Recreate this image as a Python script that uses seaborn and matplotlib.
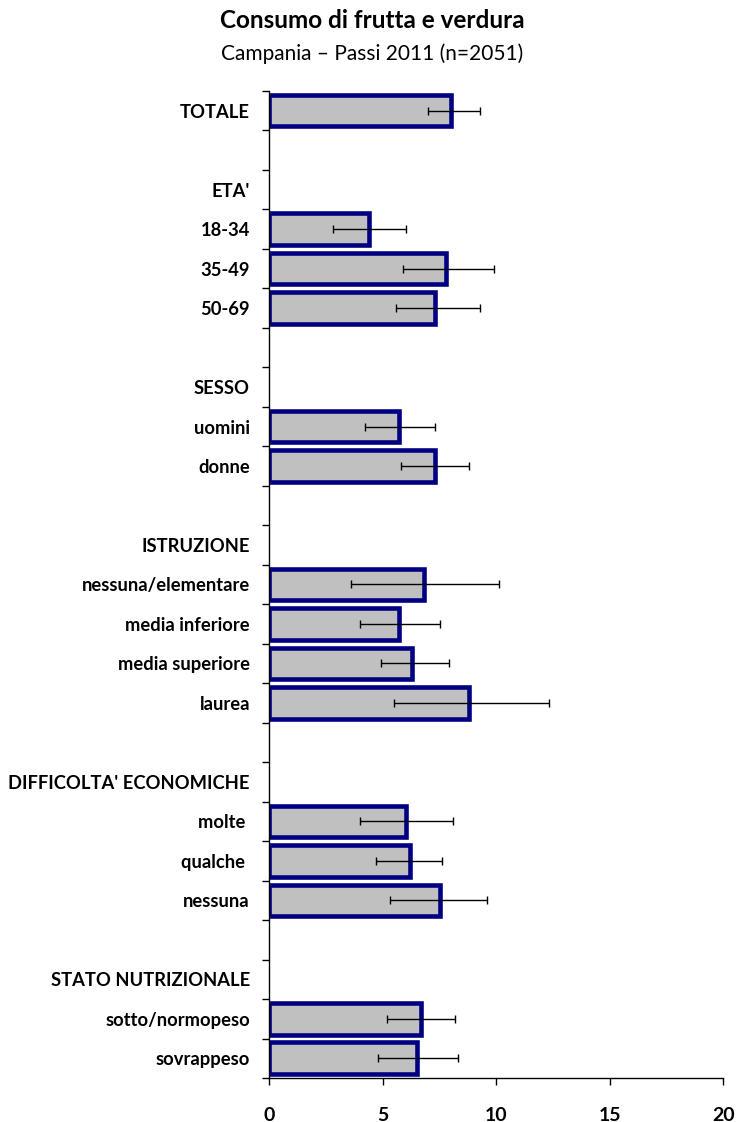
import numpy as np
import pandas as pd
import matplotlib
matplotlib.use("Agg")
import matplotlib.pyplot as plt
import seaborn as sns

# Row labels, top to bottom ("" = spacer row, headers carry no bar)
labels = ["TOTALE", "", "ETA'", "18-34", "35-49", "50-69", "",
          "SESSO", "uomini", "donne", "",
          "ISTRUZIONE", "nessuna/elementare", "media inferiore", "media superiore", "laurea", "",
          "DIFFICOLTA' ECONOMICHE", "molte ", "qualche ", "nessuna", "",
          "STATO NUTRIZIONALE", "sotto/normopeso", "sovrappeso"]

# Percentages with 95% confidence limits (NaN where no bar is drawn)
values = [8.0, np.nan, np.nan, 4.4, 7.8, 7.3, np.nan,
          np.nan, 5.7, 7.3, np.nan,
          np.nan, 6.8, 5.7, 6.3, 8.8, np.nan,
          np.nan, 6.0, 6.2, 7.5, np.nan,
          np.nan, 6.7, 6.5]
ci_low = [7.0, np.nan, np.nan, 2.8, 5.9, 5.6, np.nan,
          np.nan, 4.2, 5.8, np.nan,
          np.nan, 3.6, 4.0, 4.9, 5.5, np.nan,
          np.nan, 4.0, 4.7, 5.3, np.nan,
          np.nan, 5.2, 4.8]
ci_high = [9.3, np.nan, np.nan, 6.0, 9.9, 9.3, np.nan,
           np.nan, 7.3, 8.8, np.nan,
           np.nan, 10.1, 7.5, 7.9, 12.3, np.nan,
           np.nan, 8.1, 7.6, 9.6, np.nan,
           np.nan, 8.2, 8.3]

x_ticks = [0, 5, 10, 15, 20]

sns.set_theme(style="white")
plt.rcParams["font.family"] = ["Lato", "DejaVu Sans"]
plt.rcParams["text.color"] = "black"
plt.rcParams["xtick.color"] = "black"
plt.rcParams["ytick.color"] = "black"

rows = list(range(len(labels)))
df = pd.DataFrame({"row": rows, "value": values})

fig = plt.figure(figsize=(7.49, 11.22), dpi=100)
ax = fig.add_axes([0.3596, 0.0392, 0.9657 - 0.3596, 0.919 - 0.0392])

sns.barplot(data=df.dropna(), x="value", y="row", order=rows, orient="h",
            color="#C0C0C0", edgecolor="#000080", linewidth=3.3,
            saturation=1, width=0.8, errorbar=None, ax=ax)

# confidence intervals
v = np.array(values)
lo = np.array(ci_low)
hi = np.array(ci_high)
mask = ~np.isnan(v)
ax.errorbar(v[mask], np.array(rows)[mask],
            xerr=[v[mask] - lo[mask], hi[mask] - v[mask]],
            fmt="none", ecolor="black", elinewidth=1.0, capsize=3, capthick=1.0)

ax.set_xlim(0, 20)
ax.set_ylim(len(labels) - 0.5, -0.5)
ax.set_xticks(x_ticks)
ax.set_xticklabels([str(t) for t in x_ticks], fontsize=14, fontweight="bold")
ax.set_yticks(rows)
ax.set_yticklabels(labels, fontsize=13.2, fontweight="bold")
ax.set_yticks(np.arange(-0.5, len(labels), 1.0), minor=True)
ax.set_xlabel("")
ax.set_ylabel("")

ax.tick_params(axis="y", which="major", length=0, pad=14)
ax.tick_params(axis="y", which="minor", length=5, width=1, color="black", direction="out", left=True)
ax.tick_params(axis="x", which="major", length=5, width=1, color="black", direction="out",
               bottom=True, pad=16)

for side in ["top", "right"]:
    ax.spines[side].set_visible(False)
for side in ["left", "bottom"]:
    ax.spines[side].set_color("black")
    ax.spines[side].set_linewidth(1.0)

fig.text(0.497, 0.982, "Consumo di frutta e verdura", ha="center", va="center",
         fontsize=17.5, fontweight="bold")
fig.text(0.497, 0.952, "Campania \u2013 Passi 2011 (n=2051)", ha="center", va="center",
         fontsize=15)

fig.savefig("out.png", dpi=100)
